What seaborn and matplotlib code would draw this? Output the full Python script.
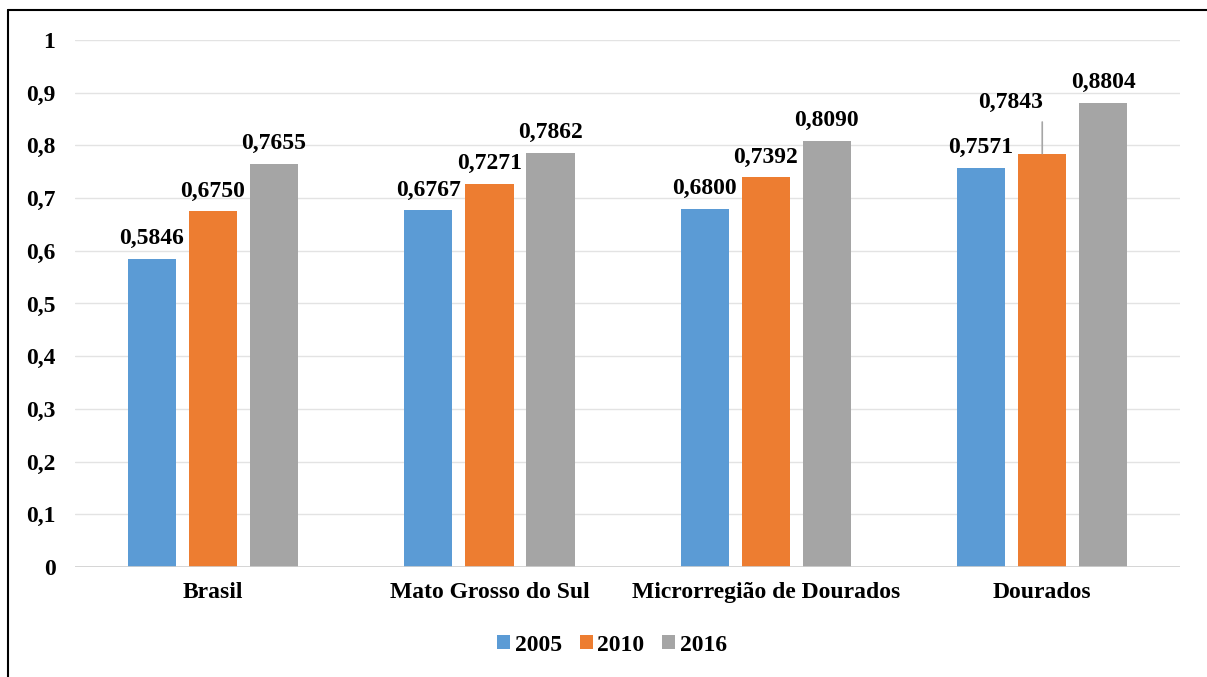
import matplotlib
matplotlib.use("Agg")
import matplotlib.pyplot as plt
from matplotlib.lines import Line2D
import seaborn as sns
import pandas as pd

regioes = ["Brasil", "Mato Grosso do Sul", "Microrregião de Dourados", "Dourados"]
anos = ["2005", "2010", "2016"]
v2005 = [0.5846, 0.6767, 0.6800, 0.7571]
v2010 = [0.6750, 0.7271, 0.7392, 0.7843]
v2016 = [0.7655, 0.7862, 0.8090, 0.8804]
cores = ["#5b9bd5", "#ed7d31", "#a5a5a5"]
yticks = [0, 0.1, 0.2, 0.3, 0.4, 0.5, 0.6, 0.7, 0.8, 0.9, 1.0]

rows = []
for ano, vals in zip(anos, [v2005, v2010, v2016]):
    for r, v in zip(regioes, vals):
        rows.append({"regiao": r, "ano": ano, "valor": v})
df = pd.DataFrame(rows)

sns.set_style("white")
plt.rcParams["font.family"] = ["Liberation Serif", "DejaVu Serif"]
plt.rcParams["font.weight"] = "bold"
plt.rcParams["text.color"] = "black"
plt.rcParams["xtick.color"] = "black"
plt.rcParams["ytick.color"] = "black"

FS = 17

fig = plt.figure(figsize=(12.07, 6.77), dpi=100)
ax = fig.add_axes([0.062, 0.1625, 0.916, 0.7785])

sns.barplot(data=df, x="regiao", y="valor", hue="ano", order=regioes,
            hue_order=anos, palette=cores, saturation=1, width=0.663,
            gap=0.21, linewidth=0, ax=ax, legend=True)

ax.set_ylim(0, 1)
ax.set_xlim(-0.5, len(regioes) - 0.5)
ax.set_yticks(yticks)
ax.set_yticklabels(["0" if t == 0 else ("1" if t == 1 else f"{t:.1f}".replace(".", ","))
                    for t in yticks])
ax.yaxis.grid(True, color="#e3e3e3", linewidth=1.0, zorder=0)
ax.set_axisbelow(True)
ax.axhline(0, color="#d0d0d0", linewidth=1.2, zorder=1)
for s in ax.spines.values():
    s.set_visible(False)
ax.tick_params(axis="y", length=0, pad=14, labelsize=FS, labelcolor="black")
ax.tick_params(axis="x", length=0, pad=11, labelsize=FS, labelcolor="black")
for lab in ax.get_xticklabels() + ax.get_yticklabels():
    lab.set_fontweight("bold")
ax.set_xlabel("")
ax.set_ylabel("")

# value labels
for ci, cont in enumerate(ax.containers):
    for ri, bar in enumerate(cont):
        v = bar.get_height()
        bx = bar.get_x() + bar.get_width() / 2
        txt = f"{v:.4f}".replace(".", ",")
        if ci == 1 and ri == 3:
            # label moved up-left with a leader line down to the bar
            ax.annotate("", xy=(bx, v), xytext=(bx, v + 0.06),
                        arrowprops=dict(arrowstyle="-", color="#a6a6a6", lw=1.2,
                                        shrinkA=0, shrinkB=0))
            ax.annotate(txt, xy=(bx, v), xytext=(-23, 29), textcoords="offset points",
                        ha="center", va="bottom", fontsize=FS, fontweight="bold",
                        color="black")
        else:
            ax.annotate(txt, xy=(bx, v), xytext=(0, 7), textcoords="offset points",
                        ha="center", va="bottom", fontsize=FS, fontweight="bold",
                        color="black")

handles, labels = ax.get_legend_handles_labels()
ax.legend_.remove()
fig.legend(handles, labels, loc="center", bbox_to_anchor=(0.507, 0.047), ncol=3,
           frameon=False, handlelength=0.55, handleheight=0.55, handletextpad=0.2,
           columnspacing=0.75, prop={"size": FS, "weight": "bold"})

# outer frame
fig.add_artist(Line2D([8 / 1207, 1], [1 - 10 / 677, 1 - 10 / 677], color="black", lw=1.5))
fig.add_artist(Line2D([8 / 1207, 8 / 1207], [0, 1 - 10 / 677], color="black", lw=1.5))

fig.savefig("out.png", dpi=100)
